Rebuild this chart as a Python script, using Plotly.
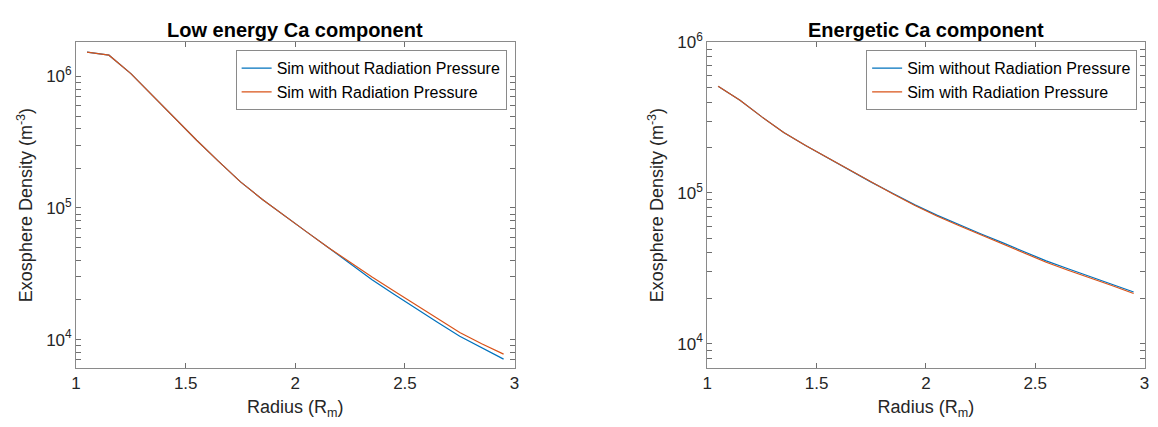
import plotly.graph_objects as go

# ---- data ----
radius = [1.05, 1.15, 1.25, 1.35, 1.45, 1.55, 1.65, 1.75, 1.85, 1.95,
          2.05, 2.15, 2.25, 2.35, 2.45, 2.55, 2.65, 2.75, 2.85, 2.95]

low_no_rp = [1.53e6, 1.45e6, 1.05e6, 7.08e5, 4.79e5, 3.27e5, 2.26e5, 1.58e5, 1.16e5, 8.71e4,
             6.61e4, 5.01e4, 3.80e4, 2.85e4, 2.21e4, 1.74e4, 1.35e4, 1.06e4, 8.70e3, 7.10e3]
low_rp = [1.53e6, 1.45e6, 1.05e6, 7.08e5, 4.79e5, 3.27e5, 2.26e5, 1.58e5, 1.16e5, 8.71e4,
          6.61e4, 5.01e4, 3.85e4, 2.99e4, 2.34e4, 1.84e4, 1.45e4, 1.13e4, 9.30e3, 7.75e3]

en_no_rp = [5.105e5, 4.12e5, 3.20e5, 2.52e5, 2.065e5, 1.714e5, 1.419e5, 1.180e5, 9.91e4, 8.34e4,
            7.13e4, 6.17e4, 5.36e4, 4.68e4, 4.05e4, 3.54e4, 3.14e4, 2.80e4, 2.48e4, 2.20e4]
en_rp = [5.105e5, 4.12e5, 3.20e5, 2.52e5, 2.065e5, 1.714e5, 1.419e5, 1.176e5, 9.85e4, 8.26e4,
         7.04e4, 6.08e4, 5.27e4, 4.59e4, 3.97e4, 3.47e4, 3.07e4, 2.74e4, 2.43e4, 2.15e4]

titles = ["Low energy Ca component", "Energetic Ca component"]
series_names = ["Sim without Radiation Pressure", "Sim with Radiation Pressure"]
x_ticks = [1, 1.5, 2, 2.5, 3]
y_major = [1e4, 1e5, 1e6]
y_major_text = ["10<sup>4</sup>", "10<sup>5</sup>", "10<sup>6</sup>"]

# ---- styling ----
BLUE = "#0072BD"
ORANGE = "#D95319"
AXC = "#8a8a8a"
TICKC = "#6e6e6e"
TXT = "#262626"
FONT = "Liberation Sans"
W, H = 1158, 427

# major + minor log ticks (minor ones unlabeled)
y_tickvals = []
y_ticktext = []
for d in range(3, 7):
    for k in range(1, 10):
        v = k * 10 ** d
        y_tickvals.append(v)
        if k == 1 and v in y_major:
            y_ticktext.append(y_major_text[y_major.index(v)])
        else:
            y_ticktext.append("")

fig = go.Figure()

panels = [
    dict(xa="x", ya="y", data=(low_no_rp, low_rp), legend="legend"),
    dict(xa="x2", ya="y2", data=(en_no_rp, en_rp), legend="legend2"),
]
for p in panels:
    for vals, name, col in zip(p["data"], series_names, [BLUE, ORANGE]):
        fig.add_trace(go.Scatter(
            x=radius, y=vals, mode="lines", name=name,
            line=dict(color=col, width=1.2),
            xaxis=p["xa"], yaxis=p["ya"], legend=p["legend"],
        ))

# pixel geometry -> paper fractions
def px(xp):
    return xp / W

def py(yp):
    return (H - yp) / H

left_dom = [px(71.7), px(514.0)]
right_dom = [px(708.3), px(1149.5)]
y_dom = [py(366.0), py(31.2)]
left_range = [3.786, 6.259]
right_range = [3.84, 6.0]

def xaxis(dom, anchor):
    return dict(
        domain=dom, anchor=anchor, range=[1, 3], tickvals=x_ticks,
        ticktext=[f"{v:g}" for v in x_ticks],
        ticks="inside", ticklen=5, tickcolor=TICKC, showline=True, linecolor=AXC,
        linewidth=1, mirror="allticks", showgrid=False, zeroline=False,
        tickfont=dict(family=FONT, size=17, color=TXT),
        title=dict(text="Radius (R<sub>m</sub>)", font=dict(family=FONT, size=18, color=TXT), standoff=8),
    )

def yaxis(dom, anchor, rng):
    return dict(
        domain=dom, anchor=anchor, type="log", range=rng,
        tickmode="array", tickvals=y_tickvals, ticktext=y_ticktext,
        ticks="inside", ticklen=5, tickwidth=1, tickcolor=TICKC, showline=True, linecolor=AXC,
        linewidth=1, mirror="allticks", showgrid=False, zeroline=False,
        tickfont=dict(family=FONT, size=17, color=TXT),
        title=dict(text="Exosphere Density (m<sup>-3</sup>)", font=dict(family=FONT, size=18, color=TXT), standoff=8),
    )

legend_style = dict(
    bgcolor="white", bordercolor=AXC, borderwidth=1,
    font=dict(family=FONT, size=16, color="black"),
    xanchor="right", yanchor="top", tracegroupgap=0,
)

fig.update_layout(
    width=W, height=H,
    margin=dict(l=0, r=0, t=0, b=0),
    paper_bgcolor="white", plot_bgcolor="white",
    xaxis=xaxis(left_dom, "y"),
    yaxis=yaxis(y_dom, "x", left_range),
    xaxis2=xaxis(right_dom, "y2"),
    yaxis2=yaxis(y_dom, "x2", right_range),
    legend=dict(x=px(506), y=py(39.3), **legend_style),
    legend2=dict(x=px(1142), y=py(39.3), **legend_style),
    showlegend=True,
)

for dom, t in zip([left_dom, right_dom], titles):
    fig.add_annotation(
        text=f"<b>{t}</b>", x=(dom[0] + dom[1]) / 2, y=py(18.5),
        xref="paper", yref="paper", xanchor="center", yanchor="middle",
        showarrow=False, font=dict(family=FONT, size=20, color="black"),
    )

fig.write_html("out.html")
